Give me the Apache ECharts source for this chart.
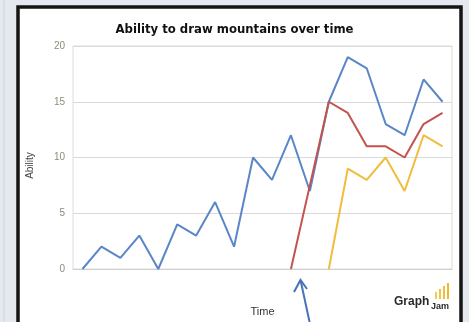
<!DOCTYPE html>
<html>
<head>
<meta charset="utf-8">
<script src="https://cdn.jsdelivr.net/npm/echarts@6/dist/echarts.min.js"></script>
<style>
  html, body { margin: 0; padding: 0; background: #e4e9ef; }
  #chart { width: 469px; height: 322px; }
</style>
</head>
<body>
<div id="chart"></div>
<script>
// Twenty evenly spaced moments in time (unlabelled on the axis)
const timeSteps = Array.from({ length: 20 }, (_, i) => String(i + 1));

// Skill levels for three attempts at drawing mountains
const firstAttempt  = [0, 2, 1, 3, 0, 4, 3, 6, 2, 10, 8, 12, 7, 15, 19, 18, 13, 12, 17, 15];
const secondAttempt = [null, null, null, null, null, null, null, null, null, null, null, 0, 7.5, 15, 14, 11, 11, 10, 13, 14];
const thirdAttempt  = [null, null, null, null, null, null, null, null, null, null, null, null, null, 0, 9, 8, 10, 7, 12, 11];

const yTicks = [0, 5, 10, 15, 20];

const chart = echarts.init(document.getElementById('chart'));

function lineSeries(name, data, color) {
  return {
    name: name,
    type: 'line',
    data: data,
    showSymbol: false,
    connectNulls: false,
    lineStyle: { color: color, width: 2 },
    itemStyle: { color: color },
    z: 3
  };
}

chart.setOption({
  backgroundColor: '#e4e9ef',
  animation: false,
  title: {
    text: 'Ability to draw mountains over time',
    left: 'center',
    top: 19,
    textStyle: { fontFamily: 'DejaVu Sans, Verdana, sans-serif', fontSize: 11.7, fontWeight: 'bold', color: '#111' }
  },
  grid: {
    left: 73, right: 17, top: 46, bottom: 53,
    show: true, borderColor: '#dcdcdc', borderWidth: 1, backgroundColor: 'transparent'
  },
  xAxis: {
    type: 'category',
    data: timeSteps,
    boundaryGap: true,
    name: 'Time',
    nameLocation: 'middle',
    nameGap: 37,
    nameTextStyle: { fontFamily: 'Liberation Sans, Arial, sans-serif', fontSize: 11, color: '#333' },
    axisLine: { show: true, lineStyle: { color: '#cfcfcf', width: 1 } },
    axisTick: { show: false },
    axisLabel: { show: false },
    splitLine: { show: false }
  },
  yAxis: {
    type: 'value',
    min: yTicks[0],
    max: yTicks[yTicks.length - 1],
    interval: 5,
    name: 'Ability',
    nameLocation: 'middle',
    nameGap: 38,
    nameRotate: 90,
    nameTextStyle: {
      fontFamily: 'Liberation Sans, Arial, sans-serif', fontSize: 10, color: '#444',
      padding: [0, 16, 0, 0]
    },
    axisLine: { show: false },
    axisTick: { show: false },
    axisLabel: {
      margin: 8,
      fontFamily: 'Liberation Sans, Arial, sans-serif',
      fontSize: 10,
      color: '#8c8c7c'
    },
    splitLine: { show: true, lineStyle: { color: '#dadada', width: 1 } }
  },
  series: [
    lineSeries('First attempt', firstAttempt, '#5a86c8'),
    lineSeries('Second attempt', secondAttempt, '#c4524e'),
    lineSeries('Third attempt', thirdAttempt, '#f0bd3c')
  ],
  graphic: [
    // outer panel with a heavy dark frame
    {
      type: 'rect', z: -10, silent: true,
      shape: { x: 18, y: 7, width: 443, height: 330 },
      style: { fill: '#ffffff', stroke: '#151515', lineWidth: 3.5 }
    },
    {
      type: 'line', z: -10, silent: true,
      shape: { x1: 4, y1: 0, x2: 4, y2: 322 },
      style: { stroke: '#cdd4dd', lineWidth: 1 }
    },
    // arrow pointing at the start of the second attempt
    {
      type: 'line', z: 5, silent: true,
      shape: { x1: 310, y1: 324, x2: 300.5, y2: 280 },
      style: { stroke: '#4a72b8', lineWidth: 2 }
    },
    {
      type: 'polyline', z: 5, silent: true,
      shape: { points: [[294, 292], [300.5, 280], [307, 289]] },
      style: { stroke: '#4a72b8', lineWidth: 2, fill: null }
    },
    // GraphJam mark
    {
      type: 'group', z: 5, silent: true,
      children: [
        { type: 'rect', shape: { x: 435, y: 292, width: 2, height: 7 }, style: { fill: '#f3c854' } },
        { type: 'rect', shape: { x: 439, y: 289, width: 2, height: 10 }, style: { fill: '#f1c246' } },
        { type: 'rect', shape: { x: 443, y: 286, width: 2, height: 13 }, style: { fill: '#efbd3a' } },
        { type: 'rect', shape: { x: 447, y: 283, width: 2, height: 16 }, style: { fill: '#eeb82e' } },
        {
          type: 'text',
          style: { x: 394, y: 296, text: 'Graph', fill: '#2a2a2a',
                   font: 'bold 12px "Liberation Sans", Arial, sans-serif' }
        },
        {
          type: 'text',
          style: { x: 431, y: 302, text: 'Jam', fill: '#2a2a2a',
                   font: 'bold 9px "Liberation Sans", Arial, sans-serif' }
        }
      ]
    }
  ]
});
</script>
</body>
</html>
